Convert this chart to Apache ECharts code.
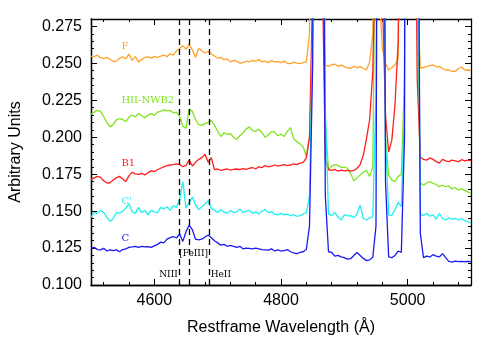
<!DOCTYPE html>
<head>
    <meta charset="utf-8">
    <title>Spectra</title>
    <script src="https://cdn.jsdelivr.net/npm/echarts@6/dist/echarts.min.js"></script>
    <style>
        body { margin: 0; background: #fff; }
    </style>
</head>
<body>
    <div id="main" style="width:491px;height:344px"></div>
    <script type="text/javascript">
    // wavelength grid, 5 A steps from 4500 to 5100
    var wave = [];
    for (var w = 4500; w <= 5100; w += 5) wave.push(w);

    // F (orange)
    var fluxF = [
        0.2548, 0.2545, 0.2555, 0.2538, 0.2532, 0.2540, 0.2528, 0.2512, 0.2515, 0.2535,
        0.2543, 0.2530, 0.2563, 0.2520, 0.2545, 0.2510, 0.2525, 0.2540, 0.2543, 0.2535,
        0.2545, 0.2540, 0.2548, 0.2555, 0.2545, 0.2565, 0.2555, 0.2585, 0.2600, 0.2620,
        0.2595, 0.2630, 0.2590, 0.2540, 0.2600, 0.2585, 0.2570, 0.2580, 0.2565, 0.2550,
        0.2535, 0.2540, 0.2525, 0.2530, 0.2510, 0.2520, 0.2515, 0.2500, 0.2505, 0.2515,
        0.2510, 0.2520, 0.2515, 0.2525, 0.2510, 0.2515, 0.2505, 0.2518, 0.2510, 0.2512,
        0.2505, 0.2515, 0.2500, 0.2498, 0.2508, 0.2502, 0.2498, 0.2505, 0.2510, 0.2700,
        0.5000, 0.8000, 0.8000, 0.3000, 0.2488, 0.2480, 0.2490, 0.2495, 0.2480, 0.2488,
        0.2478, 0.2470, 0.2465, 0.2480, 0.2470, 0.2478, 0.2465, 0.2455, 0.2510, 0.2700,
        0.6000, 0.3000, 0.2600, 0.2500, 0.2455, 0.2470, 0.2490, 0.2530, 0.4500, 0.9000,
        0.9000, 0.9000, 0.5000, 0.2900, 0.2470, 0.2470, 0.2480, 0.2485, 0.2490, 0.2475,
        0.2480, 0.2465, 0.2455, 0.2455, 0.2445, 0.2445, 0.2465, 0.2475, 0.2455, 0.2455,
        0.2450
    ];
    // HII-NWB2 (green)
    var fluxHII = [
        0.2155, 0.2170, 0.2182, 0.2175, 0.2140, 0.2100, 0.2072, 0.2085, 0.2118, 0.2125,
        0.2120, 0.2105, 0.2135, 0.2150, 0.2138, 0.2160, 0.2145, 0.2130, 0.2150, 0.2160,
        0.2148, 0.2170, 0.2175, 0.2185, 0.2178, 0.2182, 0.2165, 0.2170, 0.2140, 0.2075,
        0.2060, 0.2190, 0.2175, 0.2120, 0.2085, 0.2080, 0.2092, 0.2100, 0.2112, 0.2080,
        0.2040, 0.2005, 0.2030, 0.2020, 0.2025, 0.2000, 0.1985, 0.2010, 0.2030, 0.2055,
        0.2070, 0.2045, 0.2040, 0.2055, 0.2030, 0.2000, 0.2015, 0.2040, 0.2035, 0.2010,
        0.2020, 0.2005, 0.2040, 0.2065, 0.1990, 0.1970, 0.1955, 0.1935, 0.1870, 0.2000,
        0.2700, 0.7000, 0.9000, 0.5000, 0.2100, 0.1775, 0.1805, 0.1815, 0.1810, 0.1795,
        0.1800, 0.1790, 0.1755, 0.1705, 0.1725, 0.1745, 0.1765, 0.1775, 0.1735, 0.1800,
        0.4000, 0.9000, 0.5000, 0.2000, 0.1745, 0.1710, 0.1700, 0.1735, 0.1750, 0.2400,
        1.2000, 1.5000, 1.2000, 0.3000, 0.1690, 0.1675, 0.1690, 0.1700, 0.1688, 0.1680,
        0.1665, 0.1675, 0.1665, 0.1670, 0.1650, 0.1660, 0.1642, 0.1650, 0.1640, 0.1630,
        0.1620
    ];
    // B1 (red)
    var fluxB1 = [
        0.1712, 0.1725, 0.1735, 0.1728, 0.1705, 0.1690, 0.1692, 0.1710, 0.1725, 0.1735,
        0.1718, 0.1700, 0.1740, 0.1762, 0.1752, 0.1748, 0.1755, 0.1745, 0.1760, 0.1772,
        0.1768, 0.1780, 0.1790, 0.1800, 0.1808, 0.1812, 0.1815, 0.1820, 0.1815, 0.1800,
        0.1810, 0.1845, 0.1805, 0.1830, 0.1850, 0.1862, 0.1885, 0.1830, 0.1862, 0.1780,
        0.1785, 0.1775, 0.1780, 0.1785, 0.1778, 0.1782, 0.1785, 0.1780, 0.1788, 0.1782,
        0.1790, 0.1795, 0.1785, 0.1800, 0.1795, 0.1808, 0.1800, 0.1805, 0.1812, 0.1805,
        0.1810, 0.1815, 0.1808, 0.1812, 0.1820, 0.1815, 0.1825, 0.1830, 0.1860, 0.2000,
        0.3000, 0.6000, 0.9000, 0.3200, 0.1850, 0.1780, 0.1775, 0.1782, 0.1770, 0.1778,
        0.1772, 0.1775, 0.1770, 0.1775, 0.1790, 0.1815, 0.1880, 0.1990, 0.2120, 0.2450,
        0.3500, 0.6000, 0.3000, 0.2150, 0.1900, 0.1980, 0.2220, 0.2650, 0.4500, 0.7000,
        1.0000, 1.0000, 0.5000, 0.2400, 0.1865, 0.1850, 0.1845, 0.1860, 0.1850, 0.1835,
        0.1825, 0.1850, 0.1840, 0.1835, 0.1845, 0.1840, 0.1835, 0.1848, 0.1840, 0.1845,
        0.1842
    ];
    // C' (cyan)
    var fluxCp = [
        0.1460, 0.1492, 0.1485, 0.1505, 0.1490, 0.1460, 0.1430, 0.1450, 0.1490, 0.1485,
        0.1500, 0.1520, 0.1550, 0.1495, 0.1485, 0.1525, 0.1490, 0.1505, 0.1475, 0.1505,
        0.1495, 0.1490, 0.1525, 0.1515, 0.1530, 0.1505, 0.1535, 0.1525, 0.1580, 0.1700,
        0.1520, 0.1560, 0.1595, 0.1545, 0.1510, 0.1530, 0.1550, 0.1570, 0.1520, 0.1505,
        0.1490, 0.1510, 0.1495, 0.1485, 0.1505, 0.1490, 0.1495, 0.1515, 0.1490, 0.1500,
        0.1505, 0.1485, 0.1495, 0.1480, 0.1500, 0.1510, 0.1490, 0.1495, 0.1480, 0.1475,
        0.1485, 0.1475, 0.1480, 0.1470, 0.1475, 0.1465, 0.1470, 0.1480, 0.1490, 0.1600,
        0.2700, 0.8000, 1.0000, 0.6000, 0.2200, 0.1480, 0.1470, 0.1490, 0.1460, 0.1440,
        0.1475, 0.1468, 0.1470, 0.1455, 0.1480, 0.1540, 0.1450, 0.1440, 0.1455, 0.1460,
        0.2300, 1.0000, 0.7000, 0.2000, 0.1475, 0.1470, 0.1510, 0.1560, 0.1530, 0.2200,
        1.5000, 2.0000, 1.5000, 0.4000, 0.1480, 0.1470, 0.1485, 0.1465, 0.1475, 0.1445,
        0.1484, 0.1450, 0.1440, 0.1455, 0.1445, 0.1450, 0.1440, 0.1450, 0.1435, 0.1428,
        0.1420
    ];
    // C (blue)
    var fluxC = [
        0.1250, 0.1255, 0.1240, 0.1238, 0.1248, 0.1230, 0.1238, 0.1232, 0.1238, 0.1225,
        0.1240, 0.1245, 0.1255, 0.1258, 0.1262, 0.1255, 0.1262, 0.1258, 0.1260, 0.1255,
        0.1265, 0.1275, 0.1290, 0.1285, 0.1310, 0.1320, 0.1328, 0.1318, 0.1345, 0.1295,
        0.1360, 0.1405, 0.1375, 0.1310, 0.1305, 0.1310, 0.1325, 0.1338, 0.1320, 0.1300,
        0.1285, 0.1270, 0.1275, 0.1262, 0.1268, 0.1262, 0.1255, 0.1262, 0.1245, 0.1250,
        0.1248, 0.1245, 0.1250, 0.1245, 0.1240, 0.1238, 0.1236, 0.1245, 0.1230, 0.1238,
        0.1230, 0.1232, 0.1240, 0.1225, 0.1218, 0.1212, 0.1220, 0.1225, 0.1240, 0.1400,
        0.2500, 0.7000, 1.2000, 0.5000, 0.1600, 0.1225, 0.1220, 0.1195, 0.1200, 0.1190,
        0.1185, 0.1175, 0.1178, 0.1200, 0.1220, 0.1200, 0.1180, 0.1165, 0.1170, 0.1190,
        0.1400, 0.8000, 0.7000, 0.1700, 0.1190, 0.1185, 0.1200, 0.1230, 0.1220, 0.2000,
        1.5000, 2.0000, 1.5000, 0.5000, 0.1350, 0.1185, 0.1195, 0.1190, 0.1205, 0.1195,
        0.1190, 0.1212, 0.1185, 0.1160, 0.1155, 0.1162, 0.1158, 0.1160, 0.1158, 0.1160,
        0.1158
    ];

    // NIII, [FeIII], HeII marker wavelengths
    var lineWaves = [4640, 4655, 4686];

    // series names / label anchors (wavelength, flux)
    var names = ['F', 'HII-NWB2', 'B1', "C'", 'C'];
    var nameX = [4548, 4548, 4548, 4548, 4548];
    var nameY = [0.2615, 0.2250, 0.1824, 0.1568, 0.1318];
    var colors = ['#ffa229', '#7fe41f', '#ff1e1e', '#1ff0f0', '#1a1af5'];
    var fluxes = [fluxF, fluxHII, fluxB1, fluxCp, fluxC];

    var lineNames = ['NIII', '[FeIII]', 'HeII'];
    var lineNameX = [4637, 4662, 4689];
    var lineNameY = [0.1068, 0.1210, 0.1068];

    var myChart = echarts.init(document.getElementById('main'));

    var sans = 'Liberation Sans';
    var serif = 'DejaVu Serif';
    var gridL = 91, gridR = 20, gridT = 19, gridB = 59;
    var plotW = 491 - gridL - gridR, plotH = 344 - gridT - gridB;

    // inside ticks: an axis on the opposite side, shifted across the plot,
    // so that its outward ticks point into the frame
    function yAx(pos, withLabels, offset) {
        return {
            type: 'value', position: pos, offset: offset, min: 0.1, max: 0.28, interval: 0.025,
            name: withLabels ? 'Arbitrary Units' : '',
            nameLocation: 'middle', nameGap: 67, nameRotate: 90,
            nameTextStyle: { fontFamily: sans, fontSize: 16, color: '#000' },
            axisLine: { show: true, onZero: false, lineStyle: { color: '#000', width: 1.3 } },
            axisTick: { show: !withLabels, length: 6, lineStyle: { color: '#000', width: 1 } },
            minorTick: { show: !withLabels, splitNumber: 5, length: 3, lineStyle: { color: '#000', width: 1 } },
            axisLabel: {
                show: withLabels, showMaxLabel: false, margin: 9,
                fontFamily: sans, fontSize: 16, color: '#000',
                formatter: function (v) { return v.toFixed(3); }
            },
            splitLine: { show: false }
        };
    }
    function xAx(pos, withLabels, offset) {
        return {
            type: 'value', position: pos, offset: offset, min: 4500, max: 5100, splitNumber: 3,
            name: withLabels ? 'Restframe Wavelength (\u00c5)' : '',
            nameLocation: 'middle', nameGap: 35,
            nameTextStyle: { fontFamily: sans, fontSize: 16, color: '#000' },
            axisLine: { show: true, onZero: false, lineStyle: { color: '#000', width: 1.3 } },
            axisTick: { show: !withLabels, length: 6, lineStyle: { color: '#000', width: 1 } },
            minorTick: { show: !withLabels, splitNumber: 5, length: 3, lineStyle: { color: '#000', width: 1 } },
            axisLabel: {
                show: withLabels, showMinLabel: false, showMaxLabel: false, margin: 8,
                fontFamily: sans, fontSize: 16, color: '#000',
                formatter: function (v) { return String(v); }
            },
            splitLine: { show: false }
        };
    }

    var series = [];
    for (var i = 0; i < fluxes.length; i++) {
        var pts = [];
        for (var j = 0; j < wave.length; j++) pts.push([wave[j], fluxes[i][j]]);
        series.push({
            name: names[i], type: 'line', data: pts,
            showSymbol: false, clip: true, silent: true,
            lineStyle: { color: colors[i], width: 1.3 },
            itemStyle: { color: colors[i] }
        });
    }
    series[0].markLine = {
        silent: true, symbol: ['none', 'none'], label: { show: false },
        lineStyle: { color: '#000', type: [6, 4], width: 1.3 },
        data: lineWaves.map(function (x) { return { xAxis: x }; })
    };

    var option = {
        animation: false,
        grid: { left: gridL, right: gridR, top: gridT, bottom: gridB },
        xAxis: [
            xAx('bottom', true, 0),
            xAx('top', false, -plotH),     // ticks on bottom edge
            xAx('bottom', false, -plotH)   // ticks on top edge
        ],
        yAxis: [
            yAx('left', true, 0),
            yAx('right', false, -plotW),   // ticks on left edge
            yAx('left', false, -plotW)     // ticks on right edge
        ],
        series: series
    };
    myChart.setOption(option);

    // text annotations placed in data coordinates
    var graphics = [];
    for (var k = 0; k < names.length; k++) {
        var p = myChart.convertToPixel({ gridIndex: 0 }, [nameX[k], nameY[k]]);
        graphics.push({
            type: 'text', x: p[0], y: p[1], silent: true,
            style: { text: names[k], fill: colors[k], font: '10px "' + serif + '"',
                     textAlign: 'left', textVerticalAlign: 'middle' }
        });
    }
    var aligns = ['right', 'center', 'left'];
    for (var m = 0; m < lineNames.length; m++) {
        var q = myChart.convertToPixel({ gridIndex: 0 }, [lineNameX[m], lineNameY[m]]);
        graphics.push({
            type: 'text', x: q[0], y: q[1], silent: true,
            style: { text: lineNames[m], fill: '#000', font: '9px "' + serif + '"',
                     textAlign: aligns[m], textVerticalAlign: 'middle' }
        });
    }
    myChart.setOption({ graphic: graphics });
    </script>
</body>
